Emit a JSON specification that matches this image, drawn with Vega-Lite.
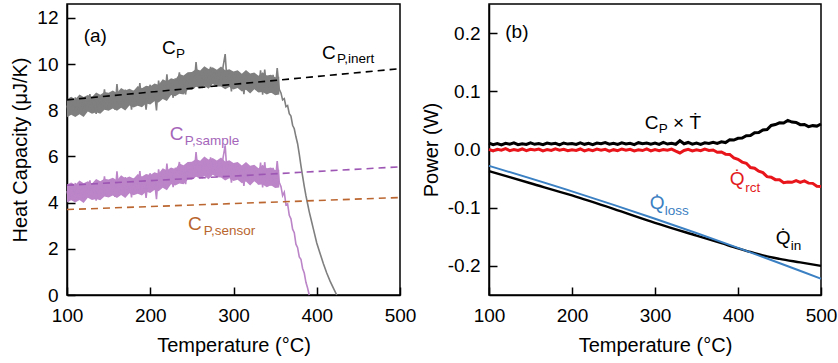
{
"$schema": "https://vega.github.io/schema/vega-lite/v6.json",
"padding": {"left": 10, "top": 3, "right": 5, "bottom": 5},
"spacing": 3,
"config": {
  "font": "Liberation Sans",
  "view": {"stroke": "black", "strokeWidth": 1.5},
  "axis": {"grid": false, "domainColor": "black", "domainWidth": 1.5, "tickColor": "black", "tickWidth": 1.5, "tickSize": -8, "labelFontSize": 19, "labelColor": "black", "titleFontSize": 20, "titleFontWeight": "normal", "titleColor": "black", "labelFlush": false, "labelOverlap": false},
  "axisX": {"labelPadding": 19, "titlePadding": 10},
  "axisY": {"labelPadding": 17, "titlePadding": 6}
},
"datasets": {
  "grayBand": [{"T":100,"lo":7.70,"hi":8.48},{"T":105,"lo":7.81,"hi":8.58},{"T":110,"lo":7.71,"hi":8.48},{"T":115,"lo":7.83,"hi":8.68},{"T":120,"lo":7.71,"hi":8.57},{"T":125,"lo":7.94,"hi":8.66},{"T":130,"lo":7.85,"hi":8.57},{"T":135,"lo":7.91,"hi":8.77},{"T":140,"lo":7.85,"hi":8.67},{"T":145,"lo":8.02,"hi":8.79},{"T":150,"lo":7.98,"hi":8.76},{"T":155,"lo":8.08,"hi":8.85},{"T":160,"lo":7.98,"hi":8.75},{"T":165,"lo":8.11,"hi":8.96},{"T":170,"lo":7.99,"hi":8.85},{"T":175,"lo":8.21,"hi":8.93},{"T":180,"lo":8.12,"hi":8.84},{"T":185,"lo":8.19,"hi":9.05},{"T":190,"lo":8.13,"hi":8.95},{"T":195,"lo":8.29,"hi":9.06},{"T":200,"lo":8.25,"hi":9.03},{"T":205,"lo":8.39,"hi":9.16},{"T":210,"lo":8.33,"hi":9.10},{"T":215,"lo":8.49,"hi":9.34},{"T":220,"lo":8.40,"hi":9.26},{"T":225,"lo":8.66,"hi":9.38},{"T":230,"lo":8.61,"hi":9.33},{"T":235,"lo":8.71,"hi":9.57},{"T":240,"lo":8.68,"hi":9.50},{"T":245,"lo":8.88,"hi":9.65},{"T":250,"lo":8.88,"hi":9.66},{"T":255,"lo":9.02,"hi":9.79},{"T":260,"lo":8.95,"hi":9.72},{"T":265,"lo":9.06,"hi":9.91},{"T":270,"lo":8.93,"hi":9.79},{"T":275,"lo":9.14,"hi":9.86},{"T":280,"lo":9.03,"hi":9.75},{"T":285,"lo":9.03,"hi":9.89},{"T":290,"lo":8.91,"hi":9.73},{"T":295,"lo":9.01,"hi":9.78},{"T":300,"lo":8.90,"hi":9.68},{"T":305,"lo":8.96,"hi":9.73},{"T":310,"lo":8.81,"hi":9.58},{"T":315,"lo":8.89,"hi":9.74},{"T":320,"lo":8.73,"hi":9.59},{"T":325,"lo":8.91,"hi":9.63},{"T":330,"lo":8.77,"hi":9.49},{"T":335,"lo":8.79,"hi":9.65},{"T":340,"lo":8.68,"hi":9.50},{"T":345,"lo":8.77,"hi":9.54},{"T":350,"lo":8.65,"hi":9.43},{"T":355,"lo":8.68,"hi":9.45}],
  "purpleBand": [{"T":100,"lo":4.00,"hi":4.78},{"T":105,"lo":4.10,"hi":4.87},{"T":110,"lo":4.00,"hi":4.77},{"T":115,"lo":4.11,"hi":4.96},{"T":120,"lo":3.98,"hi":4.84},{"T":125,"lo":4.21,"hi":4.93},{"T":130,"lo":4.11,"hi":4.83},{"T":135,"lo":4.16,"hi":5.02},{"T":140,"lo":4.10,"hi":4.92},{"T":145,"lo":4.26,"hi":5.03},{"T":150,"lo":4.22,"hi":5.00},{"T":155,"lo":4.31,"hi":5.08},{"T":160,"lo":4.20,"hi":4.97},{"T":165,"lo":4.33,"hi":5.18},{"T":170,"lo":4.20,"hi":5.06},{"T":175,"lo":4.41,"hi":5.13},{"T":180,"lo":4.32,"hi":5.04},{"T":185,"lo":4.38,"hi":5.24},{"T":190,"lo":4.31,"hi":5.13},{"T":195,"lo":4.47,"hi":5.24},{"T":200,"lo":4.42,"hi":5.20},{"T":205,"lo":4.55,"hi":5.32},{"T":210,"lo":4.49,"hi":5.26},{"T":215,"lo":4.64,"hi":5.49},{"T":220,"lo":4.54,"hi":5.40},{"T":225,"lo":4.80,"hi":5.52},{"T":230,"lo":4.74,"hi":5.46},{"T":235,"lo":4.83,"hi":5.69},{"T":240,"lo":4.80,"hi":5.62},{"T":245,"lo":4.99,"hi":5.76},{"T":250,"lo":4.99,"hi":5.77},{"T":255,"lo":5.12,"hi":5.89},{"T":260,"lo":5.04,"hi":5.81},{"T":265,"lo":5.15,"hi":6.00},{"T":270,"lo":5.01,"hi":5.87},{"T":275,"lo":5.21,"hi":5.93},{"T":280,"lo":5.10,"hi":5.82},{"T":285,"lo":5.09,"hi":5.95},{"T":290,"lo":4.96,"hi":5.78},{"T":295,"lo":5.06,"hi":5.83},{"T":300,"lo":4.94,"hi":5.72},{"T":305,"lo":4.99,"hi":5.76},{"T":310,"lo":4.84,"hi":5.61},{"T":315,"lo":4.91,"hi":5.76},{"T":320,"lo":4.74,"hi":5.60},{"T":325,"lo":4.92,"hi":5.64},{"T":330,"lo":4.77,"hi":5.49},{"T":335,"lo":4.78,"hi":5.64},{"T":340,"lo":4.67,"hi":5.49},{"T":345,"lo":4.75,"hi":5.52},{"T":350,"lo":4.63,"hi":5.41},{"T":355,"lo":4.65,"hi":5.42}],
  "gray": [{"T":100,"v":8.20},{"T":102.5,"v":7.81},{"T":105,"v":8.38},{"T":107.5,"v":7.99},{"T":110,"v":8.56},{"T":112.5,"v":7.82},{"T":115,"v":8.23},{"T":117.5,"v":8.50},{"T":120,"v":7.81},{"T":122.5,"v":8.42},{"T":125,"v":8.14},{"T":127.5,"v":8.70},{"T":130,"v":8.02},{"T":132.5,"v":8.43},{"T":135,"v":7.84},{"T":137.5,"v":8.61},{"T":140,"v":8.32},{"T":142.5,"v":8.13},{"T":145,"v":8.90},{"T":147.5,"v":8.06},{"T":150,"v":8.58},{"T":152.5,"v":8.34},{"T":155,"v":8.75},{"T":157.5,"v":8.02},{"T":160,"v":9.13},{"T":162.5,"v":8.24},{"T":165,"v":8.56},{"T":167.5,"v":8.12},{"T":170,"v":8.89},{"T":172.5,"v":8.35},{"T":175,"v":8.76},{"T":177.5,"v":8.03},{"T":180,"v":8.84},{"T":182.5,"v":8.60},{"T":185,"v":8.32},{"T":187.5,"v":9.18},{"T":190,"v":8.30},{"T":192.5,"v":8.76},{"T":195,"v":8.02},{"T":197.5,"v":8.84},{"T":200,"v":9.10},{"T":202.5,"v":8.48},{"T":205,"v":8.81},{"T":207.5,"v":7.99},{"T":210,"v":9.28},{"T":212.5,"v":8.71},{"T":215,"v":9.14},{"T":217.5,"v":8.52},{"T":220,"v":9.55},{"T":222.5,"v":8.68},{"T":225,"v":9.16},{"T":227.5,"v":8.54},{"T":230,"v":9.38},{"T":232.5,"v":9.06},{"T":235,"v":9.64},{"T":237.5,"v":8.82},{"T":240,"v":9.40},{"T":242.5,"v":8.68},{"T":245,"v":9.61},{"T":247.5,"v":9.14},{"T":250,"v":9.58},{"T":252.5,"v":8.96},{"T":255,"v":10.09},{"T":257.5,"v":9.17},{"T":260,"v":9.55},{"T":262.5,"v":8.96},{"T":265,"v":9.76},{"T":267.5,"v":9.47},{"T":270,"v":9.13},{"T":272.5,"v":9.88},{"T":275,"v":9.19},{"T":277.5,"v":9.64},{"T":280,"v":9.05},{"T":282.5,"v":9.73},{"T":285,"v":9.26},{"T":287.5,"v":9.89},{"T":290,"v":10.43},{"T":292.5,"v":9.06},{"T":295,"v":9.59},{"T":297.5,"v":8.82},{"T":300,"v":9.65},{"T":302.5,"v":9.09},{"T":305,"v":9.68},{"T":307.5,"v":8.92},{"T":310,"v":9.41},{"T":312.5,"v":8.70},{"T":315,"v":9.54},{"T":317.5,"v":9.28},{"T":320,"v":8.93},{"T":322.5,"v":9.57},{"T":325,"v":8.96},{"T":327.5,"v":9.40},{"T":330,"v":8.79},{"T":332.5,"v":9.73},{"T":335,"v":8.67},{"T":337.5,"v":9.76},{"T":340,"v":8.85},{"T":342.5,"v":9.38},{"T":345,"v":8.75},{"T":347.5,"v":9.53},{"T":350,"v":8.85},{"T":352.5,"v":9.83},{"T":355,"v":8.90},{"T":357,"v":8.75},{"T":359,"v":8.45},{"T":361,"v":8.5},{"T":363,"v":8.15},{"T":365,"v":8.2},{"T":367,"v":7.85},{"T":369,"v":7.75},{"T":371,"v":7.35},{"T":373,"v":7.2},{"T":375,"v":6.85},{"T":377,"v":6.55},{"T":379,"v":6.1},{"T":381,"v":5.6},{"T":383,"v":5.15},{"T":385,"v":4.7},{"T":387,"v":4.3},{"T":389,"v":3.95},{"T":391,"v":3.6},{"T":393,"v":3.3},{"T":396,"v":2.85},{"T":400,"v":2.25},{"T":404,"v":1.8},{"T":408,"v":1.35},{"T":412,"v":0.95},{"T":416,"v":0.6},{"T":420,"v":0.3},{"T":424,"v":0.0}],
  "purple": [{"T":100,"v":4.50},{"T":102.5,"v":4.11},{"T":105,"v":4.67},{"T":107.5,"v":4.28},{"T":110,"v":4.85},{"T":112.5,"v":4.10},{"T":115,"v":4.51},{"T":117.5,"v":4.78},{"T":120,"v":4.08},{"T":122.5,"v":4.69},{"T":125,"v":4.41},{"T":127.5,"v":4.96},{"T":130,"v":4.28},{"T":132.5,"v":4.69},{"T":135,"v":4.09},{"T":137.5,"v":4.86},{"T":140,"v":4.57},{"T":142.5,"v":4.37},{"T":145,"v":5.14},{"T":147.5,"v":4.30},{"T":150,"v":4.82},{"T":152.5,"v":4.57},{"T":155,"v":4.98},{"T":157.5,"v":4.25},{"T":160,"v":5.35},{"T":162.5,"v":4.46},{"T":165,"v":4.78},{"T":167.5,"v":4.33},{"T":170,"v":5.10},{"T":172.5,"v":4.56},{"T":175,"v":4.96},{"T":177.5,"v":4.23},{"T":180,"v":5.04},{"T":182.5,"v":4.79},{"T":185,"v":4.51},{"T":187.5,"v":5.37},{"T":190,"v":4.48},{"T":192.5,"v":4.94},{"T":195,"v":4.20},{"T":197.5,"v":5.01},{"T":200,"v":5.27},{"T":202.5,"v":4.65},{"T":205,"v":4.97},{"T":207.5,"v":4.15},{"T":210,"v":5.44},{"T":212.5,"v":4.86},{"T":215,"v":5.29},{"T":217.5,"v":4.67},{"T":220,"v":5.69},{"T":222.5,"v":4.82},{"T":225,"v":5.30},{"T":227.5,"v":4.67},{"T":230,"v":5.51},{"T":232.5,"v":5.19},{"T":235,"v":5.76},{"T":237.5,"v":4.94},{"T":240,"v":5.52},{"T":242.5,"v":4.80},{"T":245,"v":5.72},{"T":247.5,"v":5.25},{"T":250,"v":5.69},{"T":252.5,"v":5.06},{"T":255,"v":6.19},{"T":257.5,"v":5.27},{"T":260,"v":5.64},{"T":262.5,"v":5.05},{"T":265,"v":5.85},{"T":267.5,"v":5.55},{"T":270,"v":5.21},{"T":272.5,"v":5.96},{"T":275,"v":5.26},{"T":277.5,"v":5.71},{"T":280,"v":5.12},{"T":282.5,"v":5.79},{"T":285,"v":5.32},{"T":287.5,"v":5.95},{"T":290,"v":6.48},{"T":292.5,"v":5.11},{"T":295,"v":5.64},{"T":297.5,"v":4.86},{"T":300,"v":5.69},{"T":302.5,"v":5.13},{"T":305,"v":5.71},{"T":307.5,"v":4.95},{"T":310,"v":5.44},{"T":312.5,"v":4.72},{"T":315,"v":5.56},{"T":317.5,"v":5.30},{"T":320,"v":4.94},{"T":322.5,"v":5.58},{"T":325,"v":4.97},{"T":327.5,"v":5.40},{"T":330,"v":4.79},{"T":332.5,"v":5.73},{"T":335,"v":4.66},{"T":337.5,"v":5.75},{"T":340,"v":4.84},{"T":342.5,"v":5.36},{"T":345,"v":4.73},{"T":347.5,"v":5.51},{"T":350,"v":4.83},{"T":352.5,"v":5.80},{"T":355,"v":4.87},{"T":357,"v":4.7},{"T":359,"v":4.3},{"T":361,"v":4.45},{"T":363,"v":3.9},{"T":365,"v":3.95},{"T":367,"v":3.45},{"T":369,"v":3.3},{"T":371,"v":2.85},{"T":373,"v":2.7},{"T":375,"v":2.2},{"T":377,"v":2.05},{"T":379,"v":1.65},{"T":381,"v":1.55},{"T":383,"v":1.15},{"T":385,"v":0.95},{"T":387,"v":0.55},{"T":389,"v":0.3},{"T":391,"v":0.0}],
  "inert": [{"T":100,"v":8.45},{"T":300,"v":9.12},{"T":500,"v":9.8}],
  "sampleInert": [{"T":100,"v":4.75},{"T":300,"v":5.15},{"T":500,"v":5.55}],
  "sensor": [{"T":100,"v":3.7},{"T":300,"v":3.96},{"T":500,"v":4.22}],
  "labelsA": [{"T":120,"v":10.95,"t":"(a)","s":"black"},{"T":214,"v":10.45,"t":"C","s":"black"},{"T":406.3,"v":10.23,"t":"C","s":"black"},{"T":223.3,"v":6.73,"t":"C","s":"sample"},{"T":245.3,"v":2.80,"t":"C","s":"sensor"}],
  "subA": [{"T":230.9,"v":10.28,"t":"P","s":"black"},{"T":424.3,"v":10.04,"t":"P,inert","s":"black"},{"T":241.4,"v":6.51,"t":"P,sample","s":"sample"},{"T":264.2,"v":2.61,"t":"P,sensor","s":"sensor"}],
  "qin": [{"T":100,"v":-0.037},{"T":150,"v":-0.058},{"T":200,"v":-0.079},{"T":250,"v":-0.102},{"T":300,"v":-0.126},{"T":350,"v":-0.148},{"T":380,"v":-0.161},{"T":400,"v":-0.170},{"T":415,"v":-0.176},{"T":430,"v":-0.182},{"T":450,"v":-0.188},{"T":475,"v":-0.194},{"T":500,"v":-0.200}],
  "qloss": [{"T":100,"v":-0.028},{"T":200,"v":-0.072},{"T":300,"v":-0.119},{"T":400,"v":-0.169},{"T":500,"v":-0.222}],
  "rct": [{"T":100,"v":0.0003},{"T":105,"v":-0.0023},{"T":110,"v":0.0005},{"T":115,"v":-0.0012},{"T":120,"v":0.0014},{"T":125,"v":-0.0019},{"T":130,"v":0.0000},{"T":135,"v":-0.0015},{"T":140,"v":0.0009},{"T":145,"v":-0.0021},{"T":150,"v":0.0003},{"T":155,"v":-0.0008},{"T":160,"v":0.0007},{"T":165,"v":-0.0023},{"T":170,"v":-0.0002},{"T":175,"v":-0.0017},{"T":180,"v":0.0011},{"T":185,"v":-0.0013},{"T":190,"v":0.0004},{"T":195,"v":-0.0021},{"T":200,"v":-0.0005},{"T":205,"v":-0.0015},{"T":210,"v":0.0009},{"T":215,"v":-0.0023},{"T":220,"v":0.0000},{"T":225,"v":-0.0020},{"T":230,"v":0.0006},{"T":235,"v":-0.0011},{"T":240,"v":0.0002},{"T":245,"v":-0.0027},{"T":250,"v":-0.0003},{"T":255,"v":-0.0019},{"T":260,"v":0.0009},{"T":265,"v":-0.0013},{"T":270,"v":0.0004},{"T":275,"v":-0.0023},{"T":280,"v":-0.0006},{"T":285,"v":-0.0018},{"T":290,"v":0.0010},{"T":295,"v":-0.0025},{"T":300,"v":-0.0001},{"T":305,"v":-0.0021},{"T":310,"v":0.0001},{"T":315,"v":-0.0013},{"T":320,"v":0.0006},{"T":325,"v":-0.0028},{"T":330,"v":-0.0060},{"T":335,"v":-0.0017},{"T":340,"v":0.0003},{"T":345,"v":-0.0025},{"T":350,"v":-0.0006},{"T":355,"v":-0.0021},{"T":360,"v":0.0008},{"T":365,"v":-0.0017},{"T":370,"v":-0.0009},{"T":375,"v":-0.0047},{"T":380,"v":-0.0043},{"T":385,"v":-0.0080},{"T":390,"v":-0.0084},{"T":395,"v":-0.0143},{"T":400,"v":-0.0168},{"T":405,"v":-0.0216},{"T":410,"v":-0.0236},{"T":415,"v":-0.0309},{"T":420,"v":-0.0321},{"T":425,"v":-0.0373},{"T":430,"v":-0.0398},{"T":435,"v":-0.0466},{"T":440,"v":-0.0475},{"T":445,"v":-0.0518},{"T":450,"v":-0.0521},{"T":455,"v":-0.0570},{"T":460,"v":-0.0557},{"T":465,"v":-0.0564},{"T":470,"v":-0.0533},{"T":475,"v":-0.0565},{"T":480,"v":-0.0540},{"T":485,"v":-0.0578},{"T":490,"v":-0.0582},{"T":495,"v":-0.0632},{"T":500,"v":-0.0635}],
  "cpt": [{"T":100,"v":0.0110},{"T":105,"v":0.0083},{"T":110,"v":0.0103},{"T":115,"v":0.0078},{"T":120,"v":0.0106},{"T":125,"v":0.0091},{"T":130,"v":0.0113},{"T":135,"v":0.0082},{"T":140,"v":0.0100},{"T":145,"v":0.0087},{"T":150,"v":0.0116},{"T":155,"v":0.0089},{"T":160,"v":0.0102},{"T":165,"v":0.0082},{"T":170,"v":0.0110},{"T":175,"v":0.0095},{"T":180,"v":0.0107},{"T":185,"v":0.0079},{"T":190,"v":0.0112},{"T":195,"v":0.0093},{"T":200,"v":0.0101},{"T":205,"v":0.0086},{"T":210,"v":0.0115},{"T":215,"v":0.0089},{"T":220,"v":0.0107},{"T":225,"v":0.0083},{"T":230,"v":0.0111},{"T":235,"v":0.0098},{"T":240,"v":0.0118},{"T":245,"v":0.0090},{"T":250,"v":0.0105},{"T":255,"v":0.0086},{"T":260,"v":0.0114},{"T":265,"v":0.0094},{"T":270,"v":0.0108},{"T":275,"v":0.0084},{"T":280,"v":0.0117},{"T":285,"v":0.0098},{"T":290,"v":0.0112},{"T":295,"v":0.0090},{"T":300,"v":0.0111},{"T":305,"v":0.0087},{"T":310,"v":0.0122},{"T":315,"v":0.0094},{"T":320,"v":0.0106},{"T":325,"v":0.0090},{"T":330,"v":0.0150},{"T":335,"v":0.0099},{"T":340,"v":0.0121},{"T":345,"v":0.0093},{"T":350,"v":0.0110},{"T":355,"v":0.0086},{"T":360,"v":0.0115},{"T":365,"v":0.0105},{"T":370,"v":0.0124},{"T":375,"v":0.0103},{"T":380,"v":0.0132},{"T":385,"v":0.0119},{"T":390,"v":0.0166},{"T":395,"v":0.0162},{"T":400,"v":0.0192},{"T":405,"v":0.0196},{"T":410,"v":0.0236},{"T":415,"v":0.0239},{"T":420,"v":0.0288},{"T":425,"v":0.0290},{"T":430,"v":0.0334},{"T":435,"v":0.0343},{"T":440,"v":0.0413},{"T":445,"v":0.0428},{"T":450,"v":0.0459},{"T":455,"v":0.0455},{"T":460,"v":0.0500},{"T":465,"v":0.0471},{"T":470,"v":0.0466},{"T":475,"v":0.0427},{"T":480,"v":0.0429},{"T":485,"v":0.0393},{"T":490,"v":0.0410},{"T":495,"v":0.0402},{"T":500,"v":0.0438}],
  "labelsB": [{"T":119.6,"v":0.1914,"t":"(b)","s":"black"},{"T":287.6,"v":0.0359,"t":"C","s":"black"},{"T":321.7,"v":0.0359,"t":"× Ṫ","s":"black"},{"T":390,"v":-0.0615,"t":"Q̇","s":"rct"},{"T":293.6,"v":-0.103,"t":"Q̇","s":"loss"},{"T":445.4,"v":-0.163,"t":"Q̇","s":"black"}],
  "subB": [{"T":304.4,"v":0.0283,"t":"P","s":"black"},{"T":408.8,"v":-0.073,"t":"rct","s":"rct"},{"T":311.7,"v":-0.113,"t":"loss","s":"loss"},{"T":463.5,"v":-0.173,"t":"in","s":"black"}]
},
"hconcat": [
  {
    "width": 333, "height": 291,
    "encoding": {
      "x": {"field": "T", "type": "quantitative", "scale": {"domain": [100, 500], "nice": false, "zero": false}, "axis": {"values": [100, 200, 300, 400, 500], "title": "Temperature (°C)"}},
      "y": {"field": "v", "type": "quantitative", "scale": {"domain": [0, 12.6], "nice": false}, "axis": {"values": [0, 2, 4, 6, 8, 10, 12], "title": "Heat Capacity (μJ/K)"}}
    },
    "layer": [
      {"data": {"name": "grayBand"}, "mark": {"type": "area", "color": "#7f7f7f", "opacity": 1}, "encoding": {"y": {"field": "lo", "type": "quantitative"}, "y2": {"field": "hi"}}},
      {"data": {"name": "gray"}, "mark": {"type": "line", "color": "#7f7f7f", "strokeWidth": 1.6}},
      {"data": {"name": "purpleBand"}, "mark": {"type": "area", "color": "#bb85c8", "opacity": 1}, "encoding": {"y": {"field": "lo", "type": "quantitative"}, "y2": {"field": "hi"}}},
      {"data": {"name": "purple"}, "mark": {"type": "line", "color": "#bb85c8", "strokeWidth": 1.6}},
      {"data": {"name": "inert"}, "mark": {"type": "line", "color": "#000000", "strokeWidth": 1.6, "strokeDash": [7, 5]}},
      {"data": {"name": "sampleInert"}, "mark": {"type": "line", "color": "#9d56b3", "strokeWidth": 1.6, "strokeDash": [7, 5]}},
      {"data": {"name": "sensor"}, "mark": {"type": "line", "color": "#bb6630", "strokeWidth": 1.6, "strokeDash": [7, 5]}},
      {"data": {"name": "labelsA"}, "mark": {"type": "text", "align": "left", "baseline": "alphabetic", "fontSize": 19},
       "encoding": {"text": {"field": "t"}, "color": {"field": "s", "type": "nominal", "scale": {"domain": ["black", "sample", "sensor", "rct", "loss"], "range": ["#000000", "#a566ba", "#b9652e", "#e31a1c", "#3b80c2"]}, "legend": null}}},
      {"data": {"name": "subA"}, "mark": {"type": "text", "align": "left", "baseline": "alphabetic", "fontSize": 13.5},
       "encoding": {"text": {"field": "t"}, "color": {"field": "s", "type": "nominal", "scale": {"domain": ["black", "sample", "sensor", "rct", "loss"], "range": ["#000000", "#a566ba", "#b9652e", "#e31a1c", "#3b80c2"]}, "legend": null}}}
    ]
  },
  {
    "width": 332, "height": 291,
    "encoding": {
      "x": {"field": "T", "type": "quantitative", "scale": {"domain": [100, 500], "nice": false, "zero": false}, "axis": {"values": [100, 200, 300, 400, 500], "title": "Temperature (°C)"}},
      "y": {"field": "v", "type": "quantitative", "scale": {"domain": [-0.25, 0.25], "nice": false, "zero": false}, "axis": {"values": [-0.2, -0.1, 0, 0.1, 0.2], "title": "Power (W)", "labelExpr": "datum.value < 0 ? '-' + format(-datum.value, '.1f') : format(datum.value, '.1f')"}}
    },
    "layer": [
      {"data": {"name": "qin"}, "mark": {"type": "line", "color": "#000000", "strokeWidth": 2.4, "interpolate": "monotone"}},
      {"data": {"name": "qloss"}, "mark": {"type": "line", "color": "#3b80c3", "strokeWidth": 2, "interpolate": "monotone"}},
      {"data": {"name": "rct"}, "mark": {"type": "line", "color": "#e8161b", "strokeWidth": 3}},
      {"data": {"name": "cpt"}, "mark": {"type": "line", "color": "#000000", "strokeWidth": 3}},
      {"data": {"name": "labelsB"}, "mark": {"type": "text", "align": "left", "baseline": "alphabetic", "fontSize": 19},
       "encoding": {"text": {"field": "t"}, "color": {"field": "s", "type": "nominal", "scale": {"domain": ["black", "sample", "sensor", "rct", "loss"], "range": ["#000000", "#a566ba", "#b9652e", "#e31a1c", "#3b80c2"]}, "legend": null}}},
      {"data": {"name": "subB"}, "mark": {"type": "text", "align": "left", "baseline": "alphabetic", "fontSize": 13.5},
       "encoding": {"text": {"field": "t"}, "color": {"field": "s", "type": "nominal", "scale": {"domain": ["black", "sample", "sensor", "rct", "loss"], "range": ["#000000", "#a566ba", "#b9652e", "#e31a1c", "#3b80c2"]}, "legend": null}}}
    ]
  }
]
}
